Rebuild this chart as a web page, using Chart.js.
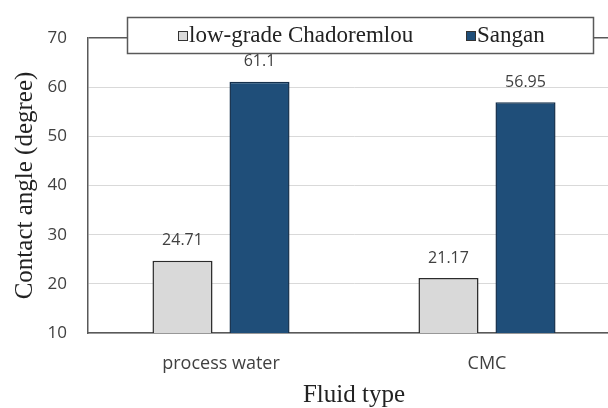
<!DOCTYPE html>
<html>
<head>
<meta charset="utf-8">
<script src="https://cdn.jsdelivr.net/npm/chart.js@4/dist/chart.umd.min.js"></script>
<style>
    html, body { margin: 0; padding: 0; background: #fff; overflow: hidden; }
    #wrap { width: 620px; height: 408px; }
</style>
</head>
<body>
<div id="wrap"><canvas id="angleChart"></canvas></div>
<script>
// ------------------- Data -------------------
const fluidTypes = ['process water', 'CMC'];
const chadoremlouAngles = [24.71, 21.17];
const sanganAngles = [61.1, 56.95];
const seriesNames = ['low-grade Chadoremlou', 'Sangan'];

const SANS = '"Open Sans", "Liberation Sans", sans-serif';
const SERIF = '"Liberation Serif", "DejaVu Serif", serif';

// ------------------- Value labels above bars -------------------
const valueLabels = {
    id: 'valueLabels',
    afterDatasetsDraw(chart) {
        const ctx = chart.ctx;
        ctx.save();
        ctx.font = '16px ' + SANS;
        ctx.fillStyle = '#404040';
        ctx.textAlign = 'center';
        ctx.textBaseline = 'middle';
        chart.data.datasets.forEach((ds, i) => {
            chart.getDatasetMeta(i).data.forEach((bar, j) => {
                ctx.fillText(String(ds.data[j]), bar.x, bar.y - 20);
            });
        });
        ctx.restore();
    }
};

// ------------------- Boxed legend over the top border -------------------
const boxedLegend = {
    id: 'boxedLegend',
    afterDraw(chart) {
        const ctx = chart.ctx;
        const x0 = 127, y0 = 17, w = 466, h = 36;
        ctx.save();
        ctx.fillStyle = '#fff';
        ctx.fillRect(x0, y0, w, h);
        ctx.strokeStyle = '#595959';
        ctx.lineWidth = 1.5;
        ctx.strokeRect(x0 + 0.5, y0 + 0.5, w, h);

        ctx.font = '23px ' + SERIF;
        ctx.textBaseline = 'middle';
        ctx.textAlign = 'left';
        const cy = y0 + h / 2 + 1;
        const starts = [178, 466];
        chart.data.datasets.forEach((ds, i) => {
            const sx = starts[i];
            ctx.fillStyle = ds.backgroundColor;
            ctx.fillRect(sx, cy - 5, 10, 10);
            ctx.lineWidth = 1;
            ctx.strokeStyle = '#333';
            ctx.strokeRect(sx + 0.5, cy - 4.5, 9, 9);
            ctx.fillStyle = '#222';
            ctx.fillText(ds.label, sx + 11, cy);
        });
        ctx.restore();
    }
};

// ------------------- Chart -------------------
function initAngleChart() {
    const ctx = document.getElementById('angleChart');
    new Chart(ctx.getContext('2d'), {
        type: 'bar',
        data: {
            labels: fluidTypes,
            datasets: [
                {
                    label: seriesNames[0],
                    data: chadoremlouAngles,
                    backgroundColor: '#d9d9d9',
                    borderColor: '#2b2b2b',
                    borderWidth: 1.5,
                    borderSkipped: false,
                    categoryPercentage: 0.579,
                    barPercentage: 0.78
                },
                {
                    label: seriesNames[1],
                    data: sanganAngles,
                    backgroundColor: '#1f4e79',
                    borderColor: '#15304c',
                    borderWidth: 1.5,
                    borderSkipped: false,
                    categoryPercentage: 0.579,
                    barPercentage: 0.78
                }
            ]
        },
        options: {
            responsive: true,
            maintainAspectRatio: false,
            animation: false,
            layout: { padding: { top: 38, right: 0, bottom: 0, left: 0 } },
            plugins: {
                legend: { display: false },
                tooltip: { enabled: false }
            },
            scales: {
                x: {
                    grid: { display: false },
                    border: { color: '#595959', width: 1.5 },
                    ticks: { color: '#404040', font: { family: SANS, size: 18 }, padding: 12 },
                    title: {
                        display: true,
                        text: 'Fluid type',
                        color: '#222',
                        font: { family: SERIF, size: 25, lineHeight: 1 },
                        padding: { top: 0, bottom: 0 }
                    },
                    afterFit(scale) { scale.height = 75; }
                },
                y: {
                    min: 10,
                    max: 70,
                    border: { color: '#595959', width: 1.5 },
                    grid: {
                        color: c => (c.tick && c.tick.value === 70) ? '#595959' : '#d9d9d9',
                        lineWidth: c => (c.tick && c.tick.value === 70) ? 1.5 : 1,
                        drawTicks: false
                    },
                    ticks: {
                        stepSize: 10,
                        color: '#404040',
                        font: { family: SANS, size: 17 },
                        padding: 21
                    },
                    title: {
                        display: true,
                        text: 'Contact angle (degree)',
                        color: '#222',
                        font: { family: SERIF, size: 25, lineHeight: 1.2 },
                        padding: { top: 10, bottom: 0 }
                    },
                    afterFit(scale) { scale.width = 88; }
                }
            }
        },
        plugins: [valueLabels, boxedLegend]
    });
}

document.addEventListener('DOMContentLoaded', initAngleChart);
</script>
</body>
</html>
